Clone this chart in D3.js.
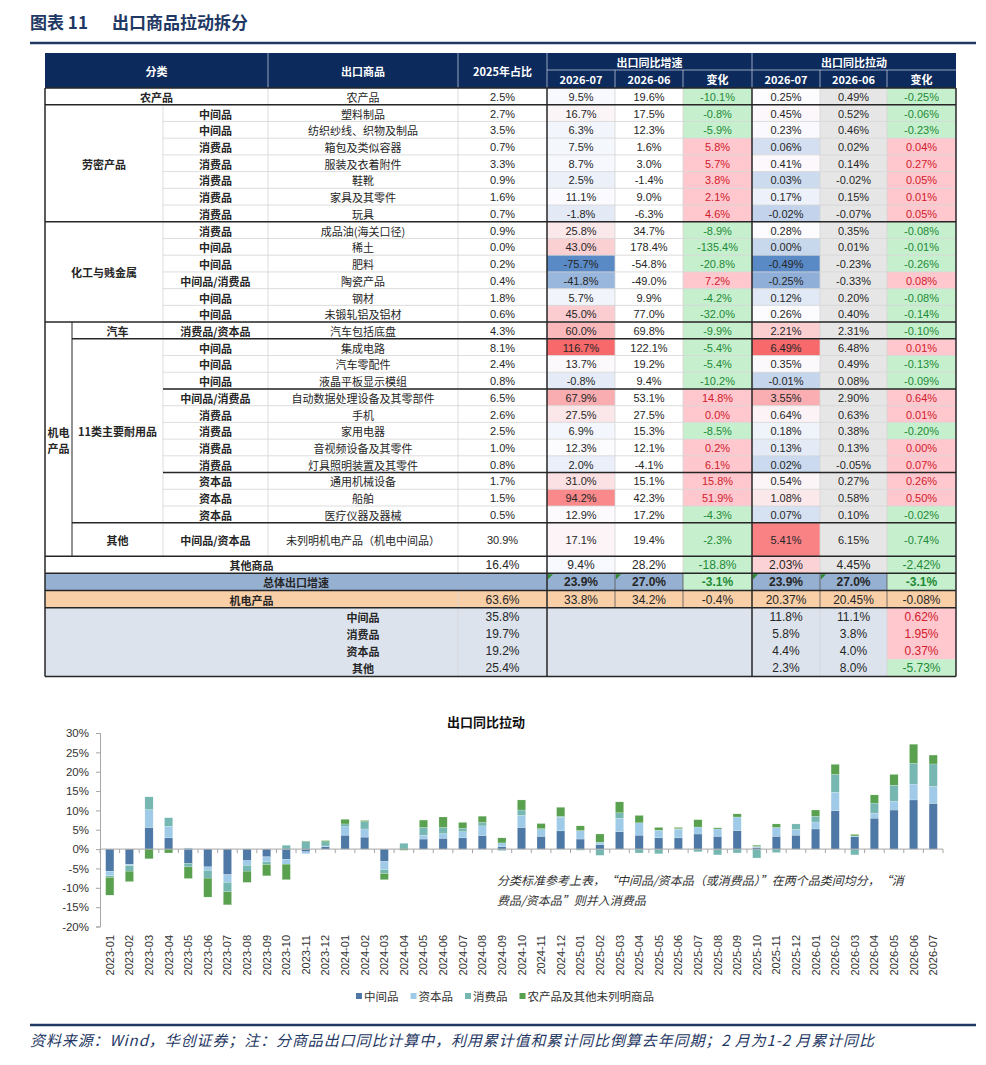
<!DOCTYPE html>
<html>
<head>
<meta charset="utf-8">
<script src="https://cdn.jsdelivr.net/npm/d3@7"></script>
<style>
  body { margin: 0; background: #fff; }
  svg { display: block; }
</style>
</head>
<body>
<script>
// ---- table data ----
var tblProducts = ['农产品','塑料制品','纺织纱线、织物及制品','箱包及类似容器','服装及衣着附件','鞋靴','家具及其零件','玩具',
  '成品油(海关口径)','稀土','肥料','陶瓷产品','钢材','未锻轧铝及铝材','汽车包括底盘','集成电路','汽车零配件','液晶平板显示模组',
  '自动数据处理设备及其零部件','手机','家用电器','音视频设备及其零件','灯具照明装置及其零件','通用机械设备','船舶','医疗仪器及器械',
  '未列明机电产品（机电中间品）'];
var tblTypes = [null,'中间品','中间品','消费品','消费品','消费品','消费品','消费品','消费品','中间品','中间品','中间品/消费品','中间品','中间品',
  '消费品/资本品','中间品','中间品','中间品','中间品/消费品','消费品','消费品','消费品','消费品','资本品','资本品','资本品','中间品/资本品'];
var share2025 = [2.5,2.7,3.5,0.7,3.3,0.9,1.6,0.7,0.9,0.0,0.2,0.4,1.8,0.6,4.3,8.1,2.4,0.8,6.5,2.6,2.5,1.0,0.8,1.7,1.5,0.5,30.9];
var growth07 = [9.5,16.7,6.3,7.5,8.7,2.5,11.1,-1.8,25.8,43.0,-75.7,-41.8,5.7,45.0,60.0,116.7,13.7,-0.8,67.9,27.5,6.9,12.3,2.0,31.0,94.2,12.9,17.1];
var growth06 = [19.6,17.5,12.3,1.6,3.0,-1.4,9.0,-6.3,34.7,178.4,-54.8,-49.0,9.9,77.0,69.8,122.1,19.2,9.4,53.1,27.5,15.3,12.1,-4.1,15.1,42.3,17.2,19.4];
var growthChg = [-10.1,-0.8,-5.9,5.8,5.7,3.8,2.1,4.6,-8.9,-135.4,-20.8,7.2,-4.2,-32.0,-9.9,-5.4,-5.4,-10.2,14.8,0.0,-8.5,0.2,6.1,15.8,51.9,-4.3,-2.3];
var pull07 = [0.25,0.45,0.23,0.06,0.41,0.03,0.17,-0.02,0.28,0.00,-0.49,-0.25,0.12,0.26,2.21,6.49,0.35,-0.01,3.55,0.64,0.18,0.13,0.02,0.54,1.08,0.07,5.41];
var pull06 = [0.49,0.52,0.46,0.02,0.14,-0.02,0.15,-0.07,0.35,0.01,-0.23,-0.33,0.20,0.40,2.31,6.48,0.49,0.08,2.90,0.63,0.38,0.13,-0.05,0.27,0.58,0.10,6.15];
var pullChg = [-0.25,-0.06,-0.23,0.04,0.27,0.05,0.01,0.05,-0.08,-0.01,-0.26,0.08,-0.08,-0.14,-0.10,0.01,-0.13,-0.09,0.64,0.01,-0.20,0.00,0.07,0.26,0.50,-0.02,-0.74];

// 其他商品 / 总体出口增速 / 机电产品
var otherRow = {label:'其他商品', share:16.4, g07:9.4, g06:28.2, gChg:-18.8, p07:2.03, p06:4.45, pChg:-2.42};
var totalRow = {label:'总体出口增速', g07:23.9, g06:27.0, gChg:-3.1, p07:23.9, p06:27.0, pChg:-3.1};
var mechRow = {label:'机电产品', share:63.6, g07:33.8, g06:34.2, gChg:-0.4, p07:20.37, p06:20.45, pChg:-0.08};

var sumLabels = ['中间品','消费品','资本品','其他'];
var sumShare = [35.8,19.7,19.2,25.4];
var sumPull07 = [11.8,5.8,4.4,2.3];
var sumPull06 = [11.1,3.8,4.0,8.0];
var sumChg = [0.62,1.95,0.37,-5.73];

// ---- chart data ----
var months = ['2023-01','2023-02','2023-03','2023-04','2023-05','2023-06','2023-07','2023-08','2023-09','2023-10','2023-11','2023-12',
  '2024-01','2024-02','2024-03','2024-04','2024-05','2024-06','2024-07','2024-08','2024-09','2024-10','2024-11','2024-12',
  '2025-01','2025-02','2025-03','2025-04','2025-05','2025-06','2025-07','2025-08','2025-09','2025-10','2025-11','2025-12',
  '2026-01','2026-02','2026-03','2026-04','2026-05','2026-06','2026-07'];
var seriesNames = ['中间品','资本品','消费品','农产品及其他未列明商品'];
var pullInter = [-5.7,-3.9,5.6,2.9,-3.7,-4.6,-6.6,-3.0,-2.0,-2.6,-0.7,0.6,
  3.6,3.1,-3.2,0.0,2.6,2.8,2.9,3.5,0.6,5.6,3.3,4.7,
  2.6,1.1,4.5,3.6,2.9,2.9,3.9,3.3,4.8,0.4,3.3,3.6,
  5.2,9.9,3.2,8.0,10.1,12.7,11.8];
var pullCapital = [-1.2,-0.4,4.6,3.0,0.3,-0.9,-2.0,-1.2,-1.3,-1.3,-0.5,0.2,
  2.2,2.1,-2.1,0.0,1.0,1.2,1.6,2.5,1.0,3.1,1.7,3.5,
  2.2,0.7,3.5,3.2,2.0,2.2,1.8,1.9,3.5,0.3,2.3,1.5,
  1.8,4.8,0.2,1.3,2.3,4.1,4.4];
var pullConsumer = [-0.4,-1.4,3.3,2.2,-0.9,-2.0,-2.4,-1.5,-0.7,1.0,2.0,1.1,
  0.7,1.9,-1.0,1.5,2.0,1.6,0.9,0.9,-0.4,1.4,0.3,0.3,
  -0.3,-1.6,1.4,-1.0,-1.2,0.2,-0.7,-1.5,-1.0,-2.3,-0.9,1.4,
  1.5,4.6,-1.5,2.6,4.1,5.4,5.8];
var pullOther = [-4.6,-2.7,-2.5,-1.0,-3.0,-4.9,-3.4,-2.9,-2.9,-4.0,0.1,0.3,
  1.2,0.3,-1.6,-0.3,1.9,2.7,1.5,1.6,1.3,2.6,1.3,2.3,
  1.2,2.1,2.8,1.9,0.7,0.3,1.9,0.3,0.8,0.3,0.9,0.0,
  1.6,2.6,0.4,2.1,2.8,4.9,2.3];
var yTicks = [-20,-15,-10,-5,0,5,10,15,20,25,30];

var W = 986, H = 1065;
var NAVY = '#1f3864';
var CJK = '"Noto Sans CJK SC","Microsoft YaHei",sans-serif';
var NUM = '"Liberation Sans",Arial,sans-serif';
var NARROW = '"Liberation Sans Narrow","Arial Narrow","Liberation Sans",sans-serif';

var svg = d3.select('body').append('svg').attr('width', W).attr('height', H);

// ---- page title ----
svg.append('text').attr('x', 30).attr('y', 29).attr('font-family', CJK).attr('font-weight', 'bold')
  .attr('font-size', 17).attr('fill', NAVY).text('图表 11');
svg.append('text').attr('x', 112).attr('y', 29).attr('font-family', CJK).attr('font-weight', 'bold')
  .attr('font-size', 17).attr('fill', NAVY).text('出口商品拉动拆分');
svg.append('line').attr('x1', 30).attr('x2', 976).attr('y1', 43).attr('y2', 43)
  .attr('stroke', NAVY).attr('stroke-width', 2.5);

// ---- table ----
var cx = {left:45, grp2:72, type:163, prod:268, share:458, g07:547, g06:615, gch:683, p07:752, p06:820, pch:887, right:956};
var tbl = svg.append('g');
var headTop = 53, headMid = 70, headBot = 88;
var rh = 16.72, rh2 = 17.2;

tbl.append('rect').attr('x', cx.left).attr('y', headTop).attr('width', cx.right - cx.left).attr('height', headBot - headTop)
  .attr('fill', '#0c2a5c');
function headText(x, y, t) {
  tbl.append('text').attr('x', x).attr('y', y).attr('text-anchor', 'middle').attr('dominant-baseline', 'central')
    .attr('font-family', CJK).attr('font-weight', 'bold').attr('font-size', 11).attr('fill', '#fff').text(t);
}
headText((cx.left + cx.prod) / 2, (headTop + headBot) / 2, '分类');
headText((cx.prod + cx.share) / 2, (headTop + headBot) / 2, '出口商品');
headText((cx.share + cx.g07) / 2, (headTop + headBot) / 2, '2025年占比');
headText((cx.g07 + cx.p07) / 2, (headTop + headMid) / 2, '出口同比增速');
headText((cx.p07 + cx.right) / 2, (headTop + headMid) / 2, '出口同比拉动');
[[cx.g07, cx.g06, '2026-07'], [cx.g06, cx.gch, '2026-06'], [cx.gch, cx.p07, '变化'],
 [cx.p07, cx.p06, '2026-07'], [cx.p06, cx.pch, '2026-06'], [cx.pch, cx.right, '变化']].forEach(function (h) {
  headText((h[0] + h[1]) / 2, (headMid + headBot) / 2, h[2]);
});
[cx.prod, cx.share, cx.g07, cx.p07].forEach(function (x) {
  tbl.append('line').attr('x1', x).attr('x2', x).attr('y1', headTop).attr('y2', headBot).attr('stroke', '#b8c2d6').attr('stroke-width', 0.8);
});
[cx.g06, cx.gch, cx.p06, cx.pch].forEach(function (x) {
  tbl.append('line').attr('x1', x).attr('x2', x).attr('y1', headMid).attr('y2', headBot).attr('stroke', '#b8c2d6').attr('stroke-width', 0.8);
});
tbl.append('line').attr('x1', cx.g07).attr('x2', cx.right).attr('y1', headMid).attr('y2', headMid).attr('stroke', '#b8c2d6').attr('stroke-width', 0.8);

// colour scales (Excel-like 3 colour scale, midpoint = median)
var heatG = growth07.concat([otherRow.g07]);
var heatP = pull07.concat([otherRow.p07]);
var growthColor = d3.scaleLinear().domain([d3.min(heatG), d3.median(heatG), d3.max(heatG)])
  .range(['#5a8ac6', '#fcfcff', '#f8696b']);
var pullColor = d3.scaleLinear().domain([d3.min(heatP), d3.median(heatP), d3.max(heatP)])
  .range(['#5a8ac6', '#fcfcff', '#f8696b']);
function chgFill(v) { return v >= 0 ? '#ffc7ce' : '#c6efce'; }
function chgText(v) { return v >= 0 ? '#d0202c' : '#1e8a36'; }
var f1 = function (v) { return v.toFixed(1) + '%'; };
var f2 = function (v) { return v.toFixed(2) + '%'; };

function cell(x0, x1, y0, y1, t, o) {
  o = o || {};
  if (o.fill) tbl.append('rect').attr('x', x0).attr('y', y0).attr('width', x1 - x0).attr('height', y1 - y0).attr('fill', o.fill);
  if (t != null) {
    tbl.append('text').attr('x', (x0 + x1) / 2).attr('y', (y0 + y1) / 2 + 0.5).attr('text-anchor', 'middle')
      .attr('dominant-baseline', 'central').attr('font-family', o.font || NUM).attr('font-size', o.size || 11)
      .attr('font-weight', o.bold ? 'bold' : 'normal').attr('fill', o.color || '#262626').text(t);
  }
}

var rowTop = [];
tblProducts.forEach(function (p, i) {
  var y0 = headBot + i * rh;
  var y1 = y0 + (i === tblProducts.length - 1 ? 2 * rh : rh);
  rowTop.push(y0);
  cell(cx.g07, cx.g06, y0, y1, f1(growth07[i]), {fill: growthColor(growth07[i])});
  cell(cx.g06, cx.gch, y0, y1, f1(growth06[i]));
  cell(cx.gch, cx.p07, y0, y1, f1(growthChg[i]), {fill: chgFill(growthChg[i]), color: chgText(growthChg[i])});
  cell(cx.p07, cx.p06, y0, y1, f2(pull07[i]), {fill: pullColor(pull07[i])});
  cell(cx.p06, cx.pch, y0, y1, f2(pull06[i]), {fill: '#e7e6e6'});
  cell(cx.pch, cx.right, y0, y1, f2(pullChg[i]), {fill: chgFill(pullChg[i]), color: chgText(pullChg[i])});
  cell(cx.prod, cx.share, y0, y1, p, {font: CJK});
  cell(cx.share, cx.g07, y0, y1, f1(share2025[i]));
  if (tblTypes[i]) cell(cx.type, cx.prod, y0, y1, tblTypes[i], {font: CJK, bold: true});
});
var mainBot = headBot + (tblProducts.length + 1) * rh;
rowTop.push(mainBot);

// group labels
function rowsSpan(a, b) { return [rowTop[a], rowTop[b + 1]]; }
var s;
s = rowsSpan(0, 0); cell(cx.left, cx.prod, s[0], s[1], '农产品', {font: CJK, bold: true});
s = rowsSpan(1, 7); cell(cx.left, cx.type, s[0], s[1], '劳密产品', {font: CJK, bold: true});
s = rowsSpan(8, 13); cell(cx.left, cx.type, s[0], s[1], '化工与贱金属', {font: CJK, bold: true});
s = rowsSpan(14, 26);
cell(cx.left, cx.grp2, s[0], s[1] - 16, '机电', {font: CJK, bold: true});
cell(cx.left, cx.grp2, s[0] + 16, s[1], '产品', {font: CJK, bold: true});
s = rowsSpan(14, 14); cell(cx.grp2, cx.type, s[0], s[1], '汽车', {font: CJK, bold: true});
s = rowsSpan(15, 25); cell(cx.grp2, cx.type, s[0], s[1], '11类主要耐用品', {font: CJK, bold: true});
s = rowsSpan(26, 26); cell(cx.grp2, cx.type, s[0], s[1], '其他', {font: CJK, bold: true});

// 其他商品 / 总体 / 机电产品
var yO = mainBot, yT = yO + rh2, yM = yT + rh2, yS = yM + rh2;
cell(cx.left, cx.share, yO, yT, otherRow.label, {font: CJK, bold: true});
cell(cx.share, cx.g07, yO, yT, f1(otherRow.share), {font: NARROW, size: 12});
cell(cx.g07, cx.g06, yO, yT, f1(otherRow.g07), {fill: growthColor(otherRow.g07), font: NARROW, size: 12});
cell(cx.g06, cx.gch, yO, yT, f1(otherRow.g06), {font: NARROW, size: 12});
cell(cx.gch, cx.p07, yO, yT, f1(otherRow.gChg), {fill: chgFill(otherRow.gChg), color: chgText(otherRow.gChg), font: NARROW, size: 12});
cell(cx.p07, cx.p06, yO, yT, f2(otherRow.p07), {fill: pullColor(otherRow.p07), font: NARROW, size: 12});
cell(cx.p06, cx.pch, yO, yT, f2(otherRow.p06), {fill: '#e7e6e6', font: NARROW, size: 12});
cell(cx.pch, cx.right, yO, yT, f2(otherRow.pChg), {fill: chgFill(otherRow.pChg), color: chgText(otherRow.pChg), font: NARROW, size: 12});

tbl.append('rect').attr('x', cx.left).attr('y', yT).attr('width', cx.right - cx.left).attr('height', rh2).attr('fill', '#95b0d0');
cell(cx.left, cx.g07, yT, yM, totalRow.label, {font: CJK, bold: true});
cell(cx.g07, cx.g06, yT, yM, f1(totalRow.g07), {font: NARROW, size: 12, bold: true});
cell(cx.g06, cx.gch, yT, yM, f1(totalRow.g06), {font: NARROW, size: 12, bold: true});
cell(cx.gch, cx.p07, yT, yM, f1(totalRow.gChg), {fill: chgFill(totalRow.gChg), color: chgText(totalRow.gChg), font: NARROW, size: 12, bold: true});
cell(cx.p07, cx.p06, yT, yM, f1(totalRow.p07), {font: NARROW, size: 12, bold: true});
cell(cx.p06, cx.pch, yT, yM, f1(totalRow.p06), {font: NARROW, size: 12, bold: true});
cell(cx.pch, cx.right, yT, yM, f1(totalRow.pChg), {fill: chgFill(totalRow.pChg), color: chgText(totalRow.pChg), font: NARROW, size: 12, bold: true});
[cx.g07, cx.g06, cx.p07, cx.p06].forEach(function (x) {
  tbl.append('path').attr('d', 'M' + (x + 1) + ',' + (yT + 1) + 'h5l-5,5z').attr('fill', '#2e8b2e');
});

tbl.append('rect').attr('x', cx.left).attr('y', yM).attr('width', cx.right - cx.left).attr('height', rh2).attr('fill', '#f9cfa7');
cell(cx.left, cx.share, yM, yS, mechRow.label, {font: CJK, bold: true});
cell(cx.share, cx.g07, yM, yS, f1(mechRow.share), {font: NARROW, size: 12});
cell(cx.g07, cx.g06, yM, yS, f1(mechRow.g07), {font: NARROW, size: 12});
cell(cx.g06, cx.gch, yM, yS, f1(mechRow.g06), {font: NARROW, size: 12});
cell(cx.gch, cx.p07, yM, yS, f1(mechRow.gChg), {font: NARROW, size: 12});
cell(cx.p07, cx.p06, yM, yS, f2(mechRow.p07), {font: NARROW, size: 12});
cell(cx.p06, cx.pch, yM, yS, f2(mechRow.p06), {font: NARROW, size: 12});
cell(cx.pch, cx.right, yM, yS, f2(mechRow.pChg), {font: NARROW, size: 12});

var yEnd = yS + sumLabels.length * rh2;
tbl.append('rect').attr('x', cx.left).attr('y', yS).attr('width', cx.right - cx.left).attr('height', yEnd - yS).attr('fill', '#dce3ed');
sumLabels.forEach(function (l, i) {
  var y0 = yS + i * rh2, y1 = y0 + rh2;
  cell(cx.prod, cx.share, y0, y1, l, {font: CJK, bold: true});
  cell(cx.share, cx.g07, y0, y1, f1(sumShare[i]), {font: NARROW, size: 12});
  cell(cx.p07, cx.p06, y0, y1, f1(sumPull07[i]), {font: NARROW, size: 12});
  cell(cx.p06, cx.pch, y0, y1, f1(sumPull06[i]), {font: NARROW, size: 12});
  cell(cx.pch, cx.right, y0, y1, f2(sumChg[i]), {fill: chgFill(sumChg[i]), color: chgText(sumChg[i]), font: NARROW, size: 12});
});

// grid lines
function hl(y, x0, x1, c, w) { tbl.append('line').attr('x1', x0).attr('x2', x1).attr('y1', y).attr('y2', y).attr('stroke', c).attr('stroke-width', w); }
function vl(x, y0, y1, c, w) { tbl.append('line').attr('x1', x).attr('x2', x).attr('y1', y0).attr('y2', y1).attr('stroke', c).attr('stroke-width', w); }
var LIGHT = '#d4d4d4', DARK = '#262626';
for (var i = 1; i < tblProducts.length; i++) hl(rowTop[i], cx.type, cx.right, LIGHT, 0.8);
vl(cx.type, rowTop[1], mainBot, LIGHT, 0.8);
vl(cx.prod, headBot, mainBot, LIGHT, 0.8);
vl(cx.share, headBot, yT, LIGHT, 0.8);
vl(cx.share, yM, yEnd, LIGHT, 0.8);
[cx.g06, cx.gch, cx.p06, cx.pch].forEach(function (x) { vl(x, headBot, yT, LIGHT, 0.8); });
[cx.g06, cx.gch, cx.p06, cx.pch].forEach(function (x) { vl(x, yT, yS, '#555', 0.8); });
[cx.p06, cx.pch].forEach(function (x) { vl(x, yS, yEnd, LIGHT, 0.8); });
vl(cx.grp2, rowTop[14], mainBot, DARK, 1);
[[headBot, cx.left], [rowTop[1], cx.left], [rowTop[8], cx.left], [rowTop[14], cx.left], [rowTop[15], cx.grp2],
 [rowTop[18], cx.type], [rowTop[23], cx.type], [rowTop[26], cx.grp2], [mainBot, cx.left], [yT, cx.left], [yM, cx.left],
 [yS, cx.left], [yEnd, cx.left]].forEach(function (d) { hl(d[0], d[1], cx.right, DARK, 1.5); });
[cx.left, cx.g07, cx.p07, cx.right].forEach(function (x) { vl(x, headBot, yEnd, DARK, 1.5); });

// ---- stacked bar chart ----
var chartRows = months.map(function (m, i) {
  var r = {month: m};
  r[seriesNames[0]] = pullInter[i];
  r[seriesNames[1]] = pullCapital[i];
  r[seriesNames[2]] = pullConsumer[i];
  r[seriesNames[3]] = pullOther[i];
  return r;
});
var colors = d3.scaleOrdinal().domain(seriesNames).range(['#4e79a7', '#a0cbe8', '#76b7b2', '#59a14f']);
var stacked = d3.stack().keys(seriesNames).offset(d3.stackOffsetDiverging)(chartRows);

var x = d3.scaleBand().domain(months).range([100, 943]).paddingInner(0.58).paddingOuter(0.29);
var y = d3.scaleLinear().domain([-20, 30]).range([926.5, 733]);
var chart = svg.append('g');

chart.append('text').attr('x', 486).attr('y', 721).attr('text-anchor', 'middle').attr('dominant-baseline', 'central')
  .attr('font-family', CJK).attr('font-weight', 'bold').attr('font-size', 13).attr('fill', '#111').text('出口同比拉动');

chart.selectAll('g.series').data(stacked).enter().append('g').attr('class', 'series')
  .attr('fill', function (d) { return colors(d.key); })
  .selectAll('rect').data(function (d) { return d; }).enter().append('rect')
  .attr('x', function (d) { return x(d.data.month); })
  .attr('width', x.bandwidth())
  .attr('y', function (d) { return y(Math.max(d[0], d[1])); })
  .attr('height', function (d) { return Math.abs(y(d[0]) - y(d[1])); })
  .attr('stroke', '#ffffff').attr('stroke-width', 0.3).attr('stroke-opacity', 0.6);

var yAxis = chart.append('g').attr('transform', 'translate(100,0)')
  .call(d3.axisLeft(y).tickValues(yTicks).tickFormat(function (d) { return d + '%'; }).tickSize(4).tickPadding(7));
yAxis.select('.domain').attr('stroke', '#a6a6a6');
yAxis.selectAll('.tick line').attr('stroke', '#a6a6a6');
yAxis.selectAll('text').attr('font-family', NUM).attr('font-size', 11.5).attr('fill', '#333');

var y0 = y(0);
chart.append('line').attr('x1', 100).attr('x2', 943).attr('y1', y0).attr('y2', y0).attr('stroke', '#a6a6a6');
chart.selectAll('line.xtick').data(d3.range(months.length + 1)).enter().append('line').attr('class', 'xtick')
  .attr('x1', function (i) { return 100 + i * x.step(); }).attr('x2', function (i) { return 100 + i * x.step(); })
  .attr('y1', y0).attr('y2', y0 + 4).attr('stroke', '#a6a6a6');
chart.selectAll('text.xlab').data(months).enter().append('text').attr('class', 'xlab')
  .attr('transform', function (m) { return 'translate(' + (x(m) + x.bandwidth() / 2) + ',935) rotate(-90)'; })
  .attr('text-anchor', 'end').attr('dominant-baseline', 'central')
  .attr('font-family', NUM).attr('font-size', 11).attr('fill', '#333').text(function (m) { return m; });

// annotation
chart.append('text').attr('x', 497).attr('y', 885).attr('font-family', CJK).attr('font-style', 'italic')
  .attr('font-size', 12).attr('fill', '#333').text('分类标准参考上表，“中间品/资本品（或消费品）”在两个品类间均分，“消');
chart.append('text').attr('x', 497).attr('y', 905).attr('font-family', CJK).attr('font-style', 'italic')
  .attr('font-size', 12).attr('fill', '#333').text('费品/资本品”则并入消费品');

// legend
var legend = chart.append('g');
var lx = 0;
seriesNames.forEach(function (n) {
  var g = legend.append('g').attr('transform', 'translate(' + lx + ',0)');
  g.append('rect').attr('x', 0).attr('y', -3).attr('width', 6).attr('height', 6).attr('fill', colors(n));
  var t = g.append('text').attr('x', 8).attr('y', 0).attr('dominant-baseline', 'central').attr('font-family', CJK)
    .attr('font-size', 11.5).attr('fill', '#333').text(n);
  lx += 8 + t.node().getComputedTextLength() + 12;
});
legend.attr('transform', 'translate(' + (505 - (lx - 12) / 2) + ',996)');

// ---- footer ----
svg.append('line').attr('x1', 30).attr('x2', 976).attr('y1', 1025).attr('y2', 1025).attr('stroke', NAVY).attr('stroke-width', 2.5);
svg.append('text').attr('x', 30).attr('y', 1046).attr('font-family', CJK).attr('font-style', 'italic')
  .attr('font-size', 15).attr('letter-spacing', 0.9).attr('fill', NAVY)
  .text('资料来源：Wind，华创证券；注：分商品出口同比计算中，利用累计值和累计同比倒算去年同期；2 月为1-2 月累计同比');
</script>
</body>
</html>
